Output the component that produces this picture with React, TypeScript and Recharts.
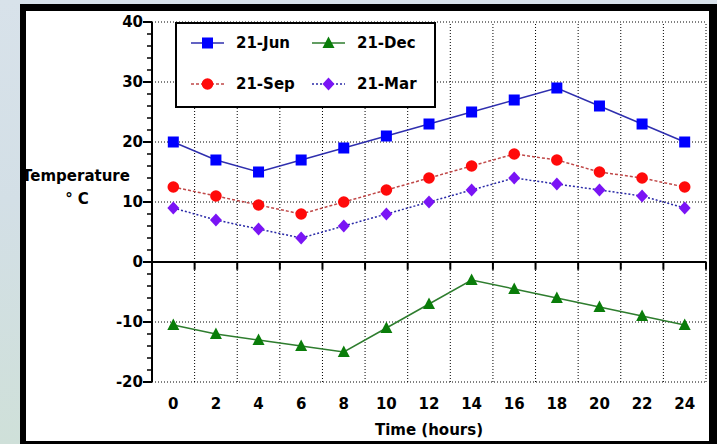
import React from "react";
import { LineChart, Line, XAxis, YAxis, ReferenceLine, Legend } from "recharts";

const HOURS = [0, 2, 4, 6, 8, 10, 12, 14, 16, 18, 20, 22, 24];
const JUN = [20, 17, 15, 17, 19, 21, 23, 25, 27, 29, 26, 23, 20];
const SEP = [12.5, 11, 9.5, 8, 10, 12, 14, 16, 18, 17, 15, 14, 12.5];
const MAR = [9, 7, 5.5, 4, 6, 8, 10, 12, 14, 13, 12, 11, 9];
const DEC = [-10.5, -12, -13, -14, -15, -11, -7, -3, -4.5, -6, -7.5, -9, -10.5];

const Y_TICKS = [-20, -18, -16, -14, -12, -10, -8, -6, -4, -2, 0, 2, 4, 6, 8, 10, 12, 14, 16, 18, 20, 22, 24, 26, 28, 30, 32, 34, 36, 38, 40];
const Y_GRID = [-20, -10, 10, 20, 30, 40];
const X_GRID = [1, 3, 5, 7, 9, 11, 13, 15, 17, 19, 21, 23, 25];

const FONT = "DejaVu Sans, Verdana, sans-serif";

const data = HOURS.map((h, i) => ({ hour: h, jun: JUN[i], sep: SEP[i], mar: MAR[i], dec: DEC[i] }));

// eslint-disable-next-line @typescript-eslint/no-explicit-any
type Any = any;

function Square({ cx, cy, fill }: Any) {
  if (cx == null || cy == null) return null;
  return <rect x={cx - 5.5} y={cy - 5.5} width={11} height={11} fill={fill} />;
}
function Circle({ cx, cy, fill }: Any) {
  if (cx == null || cy == null) return null;
  return <circle cx={cx} cy={cy} r={5.8} fill={fill} />;
}
function Diamond({ cx, cy, fill }: Any) {
  if (cx == null || cy == null) return null;
  return <polygon points={`${cx},${cy - 6.5} ${cx + 6},${cy} ${cx},${cy + 6.5} ${cx - 6},${cy}`} fill={fill} />;
}
function Triangle({ cx, cy, fill }: Any) {
  if (cx == null || cy == null) return null;
  return <polygon points={`${cx},${cy - 6.5} ${cx + 6},${cy + 5} ${cx - 6},${cy + 5}`} fill={fill} />;
}

const SERIES = {
  jun: { name: "21-Jun", line: "#2f2fae", mark: "#0000ff", dash: undefined as string | undefined, Dot: Square },
  dec: { name: "21-Dec", line: "#2e7d2e", mark: "#0a7d0a", dash: undefined as string | undefined, Dot: Triangle },
  sep: { name: "21-Sep", line: "#c04848", mark: "#ff0a0a", dash: "3 2", Dot: Circle },
  mar: { name: "21-Mar", line: "#2a2aa8", mark: "#7a14f5", dash: "2 2", Dot: Diamond },
};

function YTick({ x, y, payload }: Any) {
  const v = payload.value as number;
  const major = v % 10 === 0;
  return (
    <g>
      <line x1={x - (major ? 9 : 5)} x2={x} y1={y} y2={y} stroke="#000" strokeWidth={major ? 2 : 1.5} />
      {major && (
        <text x={x - 9} y={y} dy="0.36em" textAnchor="end" fontFamily={FONT} fontWeight="bold" fontSize={15} fill="#000">
          {v}
        </text>
      )}
    </g>
  );
}

function LegendBox() {
  const cell = (key: keyof typeof SERIES, lx: number, ly: number) => {
    const s = SERIES[key];
    const D = s.Dot;
    return (
      <g key={key}>
        <line x1={lx} x2={lx + 33} y1={ly} y2={ly} stroke={s.line} strokeWidth={1.5} strokeDasharray={s.dash} />
        <D cx={lx + 16.5} cy={ly} fill={s.mark} />
        <text x={lx + 45} y={ly} dy="0.36em" fontFamily={FONT} fontWeight="bold" fontSize={15} fill="#000">
          {s.name}
        </text>
      </g>
    );
  };
  return (
    <svg width={261} height={86} style={{ display: "block" }}>
      <rect x={1} y={1} width={259} height={84} fill="#fff" stroke="#000" strokeWidth={2} />
      {cell("jun", 16, 21)}
      {cell("dec", 137, 21)}
      {cell("sep", 16, 62)}
      {cell("mar", 137, 62)}
    </svg>
  );
}

export default function App() {
  return (
    <div
      style={{
        position: "absolute", left: 0, top: 0, width: 717, height: 444, overflow: "hidden",
        background: "linear-gradient(180deg, #d8e2ea 0%, #d3dfe6 45%, #cfe0d9 100%)",
      }}
    >
      <div style={{ position: "absolute", left: 26, top: 11, width: 683, height: 430, background: "#fff" }} />
      <div style={{ position: "absolute", left: 0, top: 0 }}>
        <LineChart width={717} height={444} data={data} margin={{ top: 22, right: 11, left: 0, bottom: 0 }}>
          <XAxis
            dataKey="hour" type="number" domain={[-1, 25]} ticks={HOURS} height={62}
            axisLine={false} tickLine={false} tickSize={0} tickMargin={16}
            tick={{ fontFamily: FONT, fontWeight: "bold", fontSize: 15, fill: "#000" }}
            label={{ value: "Time (hours)", position: "insideBottom", offset: 9, fontFamily: FONT, fontWeight: "bold", fontSize: 15, fill: "#000" }}
          />
          <YAxis
            type="number" domain={[-20, 40]} ticks={Y_TICKS} width={152} interval={0}
            axisLine={{ stroke: "#000", strokeWidth: 2 }} tickLine={false} tickSize={0} tickMargin={0}
            tick={<YTick />}
            label={{
              content: () => (
                <g fontFamily={FONT} fontWeight="bold" fontSize={15} fill="#000">
                  <text x={76} y={181} textAnchor="middle">Temperature</text>
                  <text x={77} y={204} textAnchor="middle">° C</text>
                </g>
              ),
            }}
          />
          {Y_GRID.map((v) => (
            <ReferenceLine key={"h" + v} y={v} stroke="#000" strokeWidth={1} strokeDasharray="1 2" />
          ))}
          {X_GRID.map((v) => (
            <ReferenceLine key={"v" + v} x={v} stroke="#000" strokeWidth={1} strokeDasharray="1 2" />
          ))}
          <ReferenceLine y={0} stroke="#000" strokeWidth={2} />
          {X_GRID.map((v) => (
            <ReferenceLine key={"t" + v} segment={[{ x: v, y: 0 }, { x: v, y: -1.3 }]} stroke="#000" strokeWidth={2} />
          ))}
          <Legend
            align="center" verticalAlign="middle" layout="horizontal"
            wrapperStyle={{ left: 175, top: 22, width: 261, height: 86 }}
            content={() => <LegendBox />}
          />
          {(["dec", "mar", "sep", "jun"] as (keyof typeof SERIES)[]).map((k) => {
            const s = SERIES[k];
            const D = s.Dot;
            return (
              <Line
                key={k} dataKey={k} name={s.name} type="linear" isAnimationActive={false}
                stroke={s.line} strokeWidth={1.5} strokeDasharray={s.dash}
                dot={(p: Any) => <D key={k + p.index} cx={p.cx} cy={p.cy} fill={s.mark} />}
                activeDot={false}
              />
            );
          })}
        </LineChart>
      </div>
      <div
        style={{
          position: "absolute", left: 20, top: 4, width: 697, height: 440, boxSizing: "border-box",
          borderStyle: "solid", borderColor: "#000", borderWidth: "7px 8px 3px 6px", pointerEvents: "none",
        }}
      />
    </div>
  );
}
